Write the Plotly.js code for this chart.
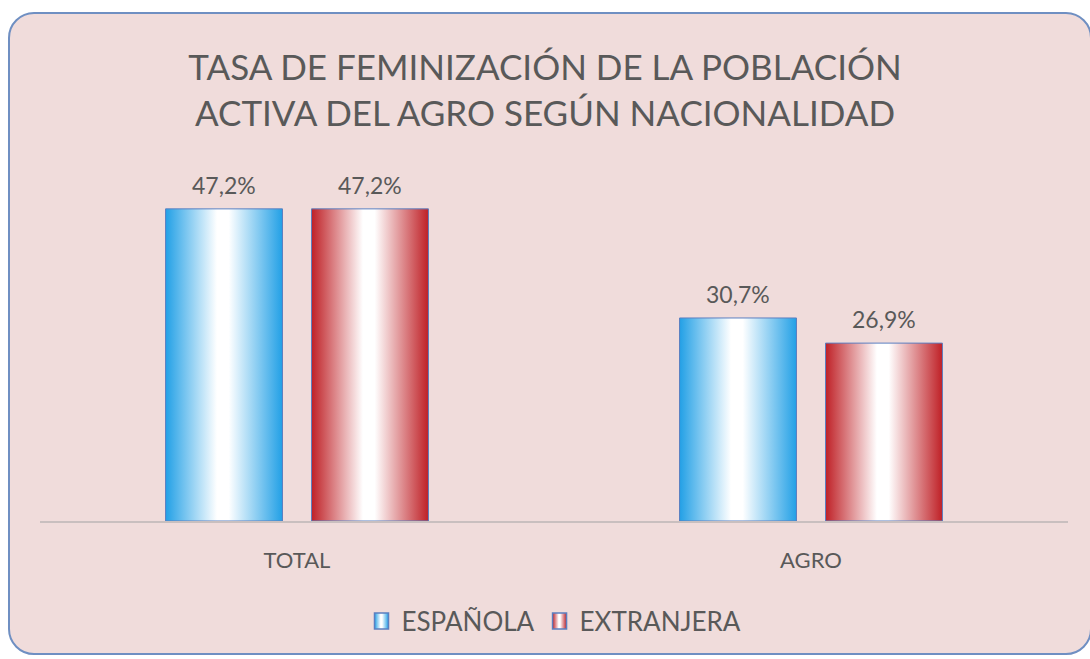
<!DOCTYPE html>
<html>
<head>
<meta charset="utf-8">
<script src="https://cdn.plot.ly/plotly-3.0.1.min.js"></script>
<style>
html,body{margin:0;padding:0;background:#ffffff;width:1090px;height:659px;overflow:hidden;}
#frame{position:absolute;left:8px;top:12px;width:1084px;height:643px;border:2px solid #6f8fc2;border-radius:26px;background:#f0dcdb;box-sizing:border-box;}
#chart{position:absolute;left:0;top:0;width:1090px;height:659px;}
</style>
</head>
<body>
<div id="frame"></div>
<div id="chart"></div>
<script>
const categories = ["TOTAL", "AGRO"];
const seriesNames = ["ESPAÑOLA", "EXTRANJERA"];
const espanola = [47.2, 30.7];
const extranjera = [47.2, 26.9];
const titleText = "TASA DE FEMINIZACIÓN DE LA POBLACIÓN<br>ACTIVA DEL AGRO SEGÚN NACIONALIDAD";

const textColor = "#595959";
const fontFam = "Lato, 'Open Sans', sans-serif";
const bargap = 0.432;
const bargroupgap = 0.199;

const traces = [
  {type: "bar", name: seriesNames[0], x: categories, y: espanola,
   marker: {color: "#2aa3e6", line: {color: "#5b7fc0", width: 1}}, hoverinfo: "skip"},
  {type: "bar", name: seriesNames[1], x: categories, y: extranjera,
   marker: {color: "#c0272d", line: {color: "#5b7fc0", width: 1}}, hoverinfo: "skip"}
];

// value labels, placed via the axis scales at each bar's grouped position
const fmt = v => v.toFixed(1).replace(".", ",") + "%";
const slotOffset = (1 - bargap) / 4;
const annotations = [];
[espanola, extranjera].forEach((vals, s) => {
  vals.forEach((v, i) => {
    annotations.push({x: i + (s === 0 ? -slotOffset : slotOffset), y: v, xref: "x", yref: "y",
      text: fmt(v), showarrow: false, yanchor: "bottom", xanchor: "center", yshift: 8,
      font: {size: 23, color: textColor, family: fontFam}});
  });
});

const layout = {
  width: 1090, height: 659,
  separators: ",.",
  paper_bgcolor: "rgba(0,0,0,0)",
  plot_bgcolor: "rgba(0,0,0,0)",
  font: {family: fontFam, color: textColor},
  margin: {l: 40, r: 22, t: 150, b: 138},
  title: {text: titleText, font: {size: 35, color: textColor, family: fontFam},
          x: 0.5, xanchor: "center", xref: "container", y: 0.878, yanchor: "middle", yref: "container"},
  barmode: "group",
  bargap: bargap,
  bargroupgap: bargroupgap,
  xaxis: {showline: true, linecolor: "#c9bfbf", linewidth: 1.5, showgrid: false, zeroline: false,
          ticks: "outside", ticklen: 19, tickcolor: "rgba(0,0,0,0)",
          tickfont: {size: 22, color: textColor, family: fontFam}},
  yaxis: {range: [0, 56.1], visible: false, showgrid: false, zeroline: false},
  annotations: annotations,
  showlegend: true,
  legend: {orientation: "h", x: 0.5, xanchor: "center", y: -0.27, yanchor: "middle",
           font: {size: 26, color: textColor, family: fontFam}, bgcolor: "rgba(0,0,0,0)",
           itemwidth: 30, tracegroupgap: 0}
};

const config = {staticPlot: true, displayModeBar: false};

function addGradients(gd) {
  const svg = gd.querySelector("svg.main-svg");
  if (!svg) return;
  let defs = svg.querySelector("defs");
  if (!defs) { defs = document.createElementNS("http://www.w3.org/2000/svg", "defs"); svg.insertBefore(defs, svg.firstChild); }
  const mk = (id, edge) => {
    if (defs.querySelector("#" + id)) return;
    const g = document.createElementNS("http://www.w3.org/2000/svg", "linearGradient");
    g.setAttribute("id", id); g.setAttribute("x1", "0"); g.setAttribute("x2", "1"); g.setAttribute("y1", "0"); g.setAttribute("y2", "0");
    [[0, edge], [0.44, "#ffffff"], [0.54, "#ffffff"], [1, edge]].forEach(([o, c]) => {
      const s = document.createElementNS("http://www.w3.org/2000/svg", "stop");
      s.setAttribute("offset", o); s.setAttribute("stop-color", c); g.appendChild(s);
    });
    defs.appendChild(g);
  };
  mk("gradBlue", "#22a0e6");
  mk("gradRed", "#bf2026");
  const ids = ["gradBlue", "gradRed"];
  gd.querySelectorAll(".barlayer .trace").forEach((t, i) => {
    t.querySelectorAll(".point path").forEach(p => { p.style.fill = "url(#" + ids[i] + ")"; p.style.fillOpacity = 1; });
  });
  gd.querySelectorAll(".legend .traces").forEach((t, i) => {
    t.querySelectorAll(".legendpoints path").forEach(p => {
      p.style.fill = "url(#" + ids[i] + ")"; p.style.fillOpacity = 1;
      p.setAttribute("d", "M7,8H-7V-8H7Z");
      p.style.strokeWidth = "1.5px";
    });
  });
}

const gd = document.getElementById("chart");
Plotly.newPlot(gd, traces, layout, config).then(() => {
  addGradients(gd);
  gd.on("plotly_afterplot", () => addGradients(gd));
});
</script>
</body>
</html>
